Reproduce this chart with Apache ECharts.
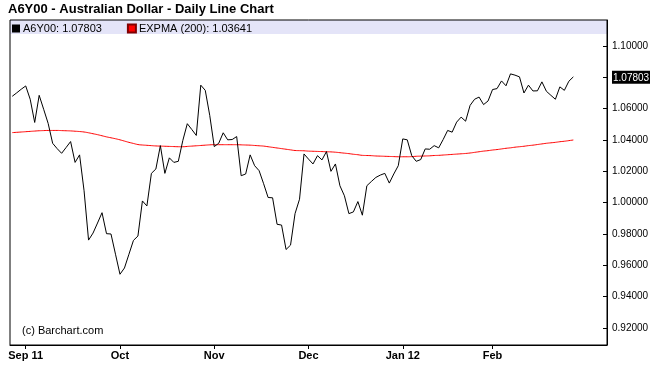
<!DOCTYPE html>
<html>
<head>
<meta charset="utf-8">
<script src="https://cdn.jsdelivr.net/npm/echarts@6/dist/echarts.min.js"></script>
<style>
html,body{margin:0;padding:0;background:#fff;}
#c{width:650px;height:386px;}
</style>
</head>
<body>
<div id="c"></div>
<script>
// ---- data ----
const startDate = '2011-08-29';
const holidays = ['2011-09-05','2011-11-24','2011-12-26','2012-01-02','2012-01-16','2012-02-20'];
const totalSlots = 133; // 126 trading days + 7 empty slots to the right
const monthTickLabels = {'2011-09':'Sep 11','2011-10':'Oct','2011-11':'Nov','2011-12':'Dec','2012-01':'Jan 12','2012-02':'Feb'};
const yTickValues = [0.92,0.94,0.96,0.98,1.00,1.02,1.04,1.06,1.08,1.10];
const yTickLabels = ['0.92000','0.94000','0.96000','0.98000','1.00000','1.02000','1.04000','1.06000','1.07803','1.10000'];
const legendLast = {'A6Y00':'1.07803', 'EXPMA (200)':'1.03641'};

const priceValues = [
1.0679,1.0701,1.0724,1.0745,1.0660,1.0512,1.0685,1.0596,1.0506,1.0379,
1.0345,1.0315,1.0352,1.0390,1.0257,1.0305,1.0076,0.9761,0.9806,0.9870,
0.9936,0.9802,0.9800,0.9671,0.9543,0.9583,0.9671,0.9759,0.9787,1.0011,
0.9979,1.0187,1.0215,1.0364,1.0187,1.0286,1.0257,1.0264,1.0397,1.0504,
1.0467,1.0429,1.0750,1.0717,1.0557,1.0358,1.0379,1.0446,1.0401,1.0403,
1.0422,1.0172,1.0183,1.0305,1.0236,1.0204,1.0121,1.0033,1.0031,0.9862,
0.9857,0.9701,0.9729,0.9930,1.0022,1.0311,1.0278,1.0247,1.0300,1.0273,
1.0326,1.0200,1.0247,1.0108,1.0044,0.9930,0.9941,1.0007,0.9920,1.0108,
1.0135,1.0161,1.0176,1.0187,1.0125,1.0183,1.0236,1.0407,1.0401,1.0300,
1.0264,1.0275,1.0343,1.0341,1.0364,1.0350,1.0403,1.0461,1.0450,1.0514,
1.0546,1.0520,1.0621,1.0660,1.0674,1.0626,1.0649,1.0722,1.0728,1.0777,
1.0746,1.0822,1.0814,1.0803,1.0700,1.0750,1.0713,1.0714,1.0771,1.0711,
1.0685,1.0660,1.0739,1.0717,1.0775,1.0803
];

const expmaValues = [
1.0447,1.0449,1.0451,1.0453,1.0455,1.0457,1.0459,1.0460,1.0461,1.0461,
1.0461,1.0460,1.0459,1.0458,1.0456,1.0454,1.0451,1.0446,1.0440,1.0434,
1.0427,1.0420,1.0414,1.0408,1.0401,1.0393,1.0385,1.0378,1.0371,1.0368,
1.0366,1.0364,1.0362,1.0361,1.0360,1.0359,1.0358,1.0357,1.0357,1.0359,
1.0361,1.0363,1.0365,1.0367,1.0369,1.0370,1.0370,1.0370,1.0370,1.0370,
1.0370,1.0369,1.0368,1.0367,1.0365,1.0363,1.0361,1.0357,1.0353,1.0349,
1.0345,1.0341,1.0337,1.0333,1.0332,1.0331,1.0329,1.0328,1.0327,1.0326,
1.0325,1.0324,1.0322,1.0319,1.0316,1.0313,1.0309,1.0306,1.0302,1.0301,
1.0300,1.0298,1.0297,1.0296,1.0295,1.0294,1.0293,1.0293,1.0293,1.0294,
1.0296,1.0297,1.0298,1.0299,1.0301,1.0302,1.0304,1.0306,1.0308,1.0310,
1.0312,1.0314,1.0317,1.0321,1.0325,1.0329,1.0332,1.0336,1.0339,1.0343,
1.0347,1.0350,1.0354,1.0357,1.0360,1.0364,1.0367,1.0371,1.0375,1.0379,
1.0382,1.0385,1.0389,1.0392,1.0396,1.0400
];

// ---- trading-day categories ----
function fmt(d){const m=d.getUTCMonth()+1, dd=d.getUTCDate();return d.getUTCFullYear()+'-'+(m<10?'0':'')+m+'-'+(dd<10?'0':'')+dd;}
const dates = [];
{
  let d = new Date(startDate+'T00:00:00Z');
  while (dates.length < totalSlots) {
    const wd = d.getUTCDay();
    const s = fmt(d);
    if (wd !== 0 && wd !== 6 && holidays.indexOf(s) < 0) dates.push(s);
    d = new Date(d.getTime() + 86400000);
  }
}
const firstOfMonth = {};
dates.forEach((s,i)=>{const k=s.slice(0,7); if(monthTickLabels[k] && firstOfMonth[k]===undefined) firstOfMonth[k]=i;});
const tickIdx = new Set(Object.values(firstOfMonth));
const isTick = (i)=>tickIdx.has(i);

const FONT = '"Liberation Sans", Arial, Helvetica, sans-serif';

const chart = echarts.init(document.getElementById('c'), null, {renderer:'canvas'});
chart.setOption({
  animation:false,
  backgroundColor:'#ffffff',
  title:{text:'A6Y00 - Australian Dollar - Daily Line Chart', left:8, top:3, padding:0,
    textStyle:{fontFamily:FONT, fontSize:13, fontWeight:'bold', color:'#000'}},
  legend:{left:12, top:23, padding:0, itemWidth:8, itemHeight:8, itemGap:25, icon:'rect',
    textStyle:{fontFamily:FONT, fontSize:11, color:'#000', padding:[0,0,0,-2]},
    formatter:(name)=> name + ': ' + legendLast[name],
    selectedMode:false},
  graphic:[
    {type:'rect', shape:{x:10, y:20, width:597, height:14}, style:{fill:'#e4e4f8'}, z:-1},
    {type:'text', left:22, top:325, style:{text:'(c) Barchart.com', fontFamily:FONT, fontSize:11, fill:'#000'}}
  ],
  grid:{left:10, right:43, top:20, bottom:41, show:true, borderColor:'#000', borderWidth:1,
    backgroundColor:'transparent', containLabel:false, outerBoundsMode:'none'},
  xAxis:{type:'category', data:dates, boundaryGap:true,
    axisLine:{show:true, lineStyle:{color:'#000', width:1}},
    axisTick:{show:true, alignWithLabel:true, length:4, inside:false, interval:(i)=>isTick(i), lineStyle:{color:'#000'}},
    axisLabel:{interval:(i)=>isTick(i), margin:5, fontFamily:FONT, fontSize:11, fontWeight:'bold', color:'#000',
      formatter:(v)=>monthTickLabels[v.slice(0,7)]},
    splitLine:{show:false}},
  yAxis:{type:'value', position:'right', min:0.90915, max:1.11659, scale:true,
    axisLine:{show:true, lineStyle:{color:'#000', width:1}},
    axisTick:{show:true, inside:true, length:4, customValues:yTickValues, lineStyle:{color:'#000'}},
    axisLabel:{customValues:yTickValues, margin:5, fontFamily:FONT, fontSize:10, color:'#000',
      formatter:(v)=>{
        const k = yTickValues.findIndex(t=>Math.abs(t-v)<1e-6);
        const s = k>=0 ? yTickLabels[k] : v.toFixed(5);
        return s==='1.07803' ? '{hl|'+s+'}' : s;
      },
      rich:{hl:{backgroundColor:'#000', color:'#fff', fontFamily:FONT, fontSize:10, padding:[2,1,1,1]}}},
    splitLine:{show:false}},
  series:[
    {name:'A6Y00', type:'line', data:priceValues, showSymbol:false, symbol:'none',
      lineStyle:{color:'#000', width:1}, itemStyle:{color:'#000'}, z:3},
    {name:'EXPMA (200)', type:'line', data:expmaValues, showSymbol:false, symbol:'none', smooth:true,
      lineStyle:{color:'#ff0000', width:1}, itemStyle:{color:'#ff0000', borderColor:'#800000', borderWidth:1}, z:2}
  ]
});
</script>
</body>
</html>
